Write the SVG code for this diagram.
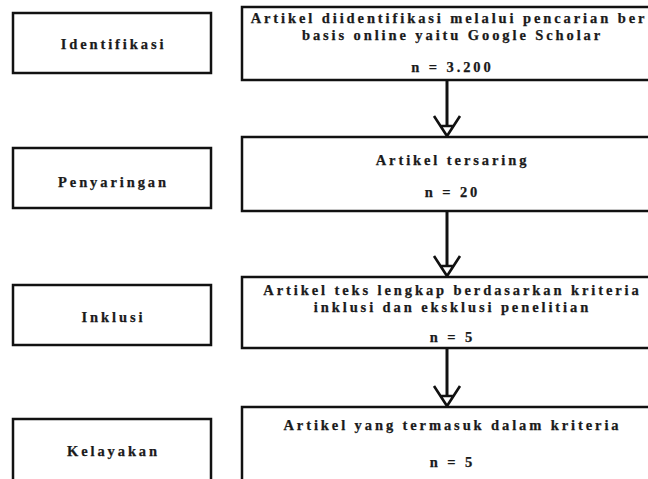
<svg xmlns="http://www.w3.org/2000/svg" xmlns:xlink="http://www.w3.org/1999/xlink" width="648" height="479" viewBox="0 0 648 479">
  <style>
    .box { fill: #fff; stroke: #111; stroke-width: 2.5; }
    .t { font-family: "Liberation Serif", "DejaVu Serif", "Times New Roman", serif; font-weight: bold; font-size: 14.5px; letter-spacing: 2.9px; fill: #1a1a1a; stroke: #1a1a1a; stroke-width: 0.25; text-anchor: middle; }
    .stem { stroke: #111; stroke-width: 3; fill: none; }
    .head { stroke: #111; stroke-width: 2.6; fill: none; stroke-linejoin: miter; }
  </style>
  <defs>
    <path id="ah" class="head" d="M-13,-20 L0,0 L13,-20 M-7,-10 L7,-10"/>
  </defs>
  <rect width="648" height="479" fill="#fff"/>

  <g id="connectors">
    <line class="stem" x1="447" y1="81" x2="447" y2="126"/>
    <use xlink:href="#ah" x="447" y="136"/>
    <line class="stem" x1="447" y1="212" x2="447" y2="266"/>
    <use xlink:href="#ah" x="447" y="276"/>
    <line class="stem" x1="447" y1="349" x2="447" y2="396"/>
    <use xlink:href="#ah" x="447" y="406"/>
  </g>

  <g id="stage-identifikasi">
    <rect class="box" x="13" y="13" width="198" height="60"/>
    <text class="t" x="113.5" y="49">Identifikasi</text>
  </g>
  <g id="stage-penyaringan">
    <rect class="box" x="13" y="148" width="198" height="60"/>
    <text class="t" x="113.5" y="187">Penyaringan</text>
  </g>
  <g id="stage-inklusi">
    <rect class="box" x="13" y="285" width="198" height="60"/>
    <text class="t" x="113.5" y="322">Inklusi</text>
  </g>
  <g id="stage-kelayakan">
    <rect class="box" x="13" y="419" width="198" height="70"/>
    <text class="t" x="113.5" y="456">Kelayakan</text>
  </g>

  <g id="box-identifikasi">
    <rect class="box" x="242" y="7" width="420" height="73"/>
    <text class="t" x="449" y="23">Artikel diidentifikasi melalui pencarian ber</text>
    <text class="t" x="452.5" y="40">basis online yaitu Google Scholar</text>
    <text class="t" x="452.5" y="72">n = 3.200</text>
  </g>
  <g id="box-penyaringan">
    <rect class="box" x="242" y="137" width="420" height="74"/>
    <text class="t" x="452.5" y="165">Artikel tersaring</text>
    <text class="t" x="452.5" y="197">n = 20</text>
  </g>
  <g id="box-inklusi">
    <rect class="box" x="242" y="277" width="420" height="71"/>
    <text class="t" x="452.5" y="295">Artikel teks lengkap berdasarkan kriteria</text>
    <text class="t" x="452.5" y="312">inklusi dan eksklusi penelitian</text>
    <text class="t" x="452.5" y="342">n = 5</text>
  </g>
  <g id="box-kelayakan">
    <rect class="box" x="242" y="407" width="420" height="85"/>
    <text class="t" x="452.5" y="430">Artikel yang termasuk dalam kriteria</text>
    <text class="t" x="452.5" y="467">n = 5</text>
  </g>
</svg>
